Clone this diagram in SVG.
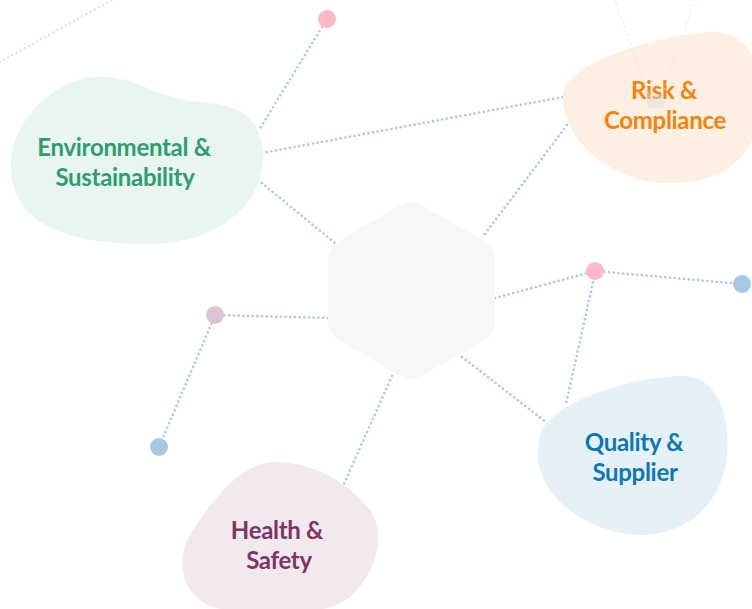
<svg xmlns="http://www.w3.org/2000/svg" width="752" height="609" viewBox="0 0 752 609">
<style>
.c{fill:none;stroke:#abc9e4;stroke-width:2.6;stroke-dasharray:0.1 4.6;stroke-linecap:round}
.f{fill:none;stroke:#dfe3e6;stroke-width:2.4;stroke-dasharray:0.1 4.6;stroke-linecap:round}
.t{font-family:Lato,"Open Sans",sans-serif;font-weight:700;font-size:24px;text-anchor:middle;letter-spacing:-0.3px}
</style>
<rect width="752" height="609" fill="#ffffff"/>
<g id="connectors">
<line class="f" x1="0" y1="62" x2="112" y2="0"/>
<line class="c" x1="327" y1="19" x2="259" y2="130"/>
<line class="c" x1="262" y1="153" x2="563" y2="97"/>
<line class="c" x1="258" y1="180" x2="335" y2="243"/>
<line class="c" x1="567" y1="125" x2="484" y2="235"/>
<line class="c" x1="495" y1="298" x2="595" y2="271"/>
<line class="c" x1="595" y1="271" x2="742" y2="284"/>
<line class="c" x1="594" y1="278" x2="566" y2="404"/>
<line class="c" x1="462" y1="357" x2="546" y2="422"/>
<line class="c" x1="215" y1="315" x2="330" y2="318"/>
<line class="c" x1="215" y1="315" x2="159" y2="447"/>
<line class="c" x1="392" y1="376" x2="343" y2="486"/>
</g>
<g id="hub">
<path d="M399,206 Q411,199 423,206 L484,241 Q495,248 495,261 L495,320 Q495,333 484,340 L423,375 Q411,382 399,375 L339,340 Q328,333 328,320 L328,261 Q328,248 339,241 Z" fill="#f7f7f7"/>
</g>
<g id="env">
<path d="M95,77 C130,74 152,95 190,101 C232,104 258,110 263,150 C267,200 222,243 150,244 C72,245 12,226 11,168 C10,120 55,80 95,77 Z" fill="#e8f5f0"/>
<text class="t" fill="#2f9e6f" x="124" y="156">Environmental &amp;</text>
<text class="t" fill="#2f9e6f" x="125" y="186">Sustainability</text>
</g>
<g id="risk">
<path d="M563,95 C565,65 640,40 705,32 C745,28 765,60 760,110 C755,160 720,185 665,183 C610,181 562,140 563,95 Z" fill="#fdf0e3"/>
<text class="t" fill="#f5820d" x="664" y="99">Risk &amp;</text>
<text class="t" fill="#f5820d" x="665" y="129">Compliance</text>
</g>
<g id="risk-overlay" opacity="0.45">
<line class="f" x1="615" y1="0" x2="650" y2="98"/>
<line class="f" x1="695" y1="0" x2="661" y2="98"/>
<rect x="647" y="94" width="17" height="14" rx="4" fill="#d8dcdc"/>
</g>
<g id="quality">
<path d="M545,425 C570,395 640,376 683,376 C720,377 730,420 727,455 C723,500 690,535 640,535 C585,533 538,495 538,455 C538,440 540,432 545,425 Z" fill="#e6f0f7"/>
<text class="t" fill="#0b78b5" x="634" y="451">Quality &amp;</text>
<text class="t" fill="#0b78b5" x="635" y="481">Supplier</text>
</g>
<g id="health">
<path d="M275,462 C312,462 348,482 370,510 C386,532 378,572 350,597 C328,617 250,620 210,606 C180,592 176,558 190,535 C210,503 240,462 275,462 Z" fill="#f2e9ee"/>
<text class="t" fill="#7f3466" x="277" y="539">Health &amp;</text>
<text class="t" fill="#7f3466" x="279" y="569">Safety</text>
</g>
<g id="dots">
<circle cx="327" cy="19" r="9" fill="#ffb8c8"/>
<circle cx="595" cy="271" r="9" fill="#ffb8c8"/>
<circle cx="742" cy="284" r="9" fill="#a7c8e2"/>
<circle cx="215" cy="315" r="9" fill="#dcc4d5"/>
<circle cx="159" cy="447" r="9" fill="#a7c8e2"/>
</g>
</svg>
